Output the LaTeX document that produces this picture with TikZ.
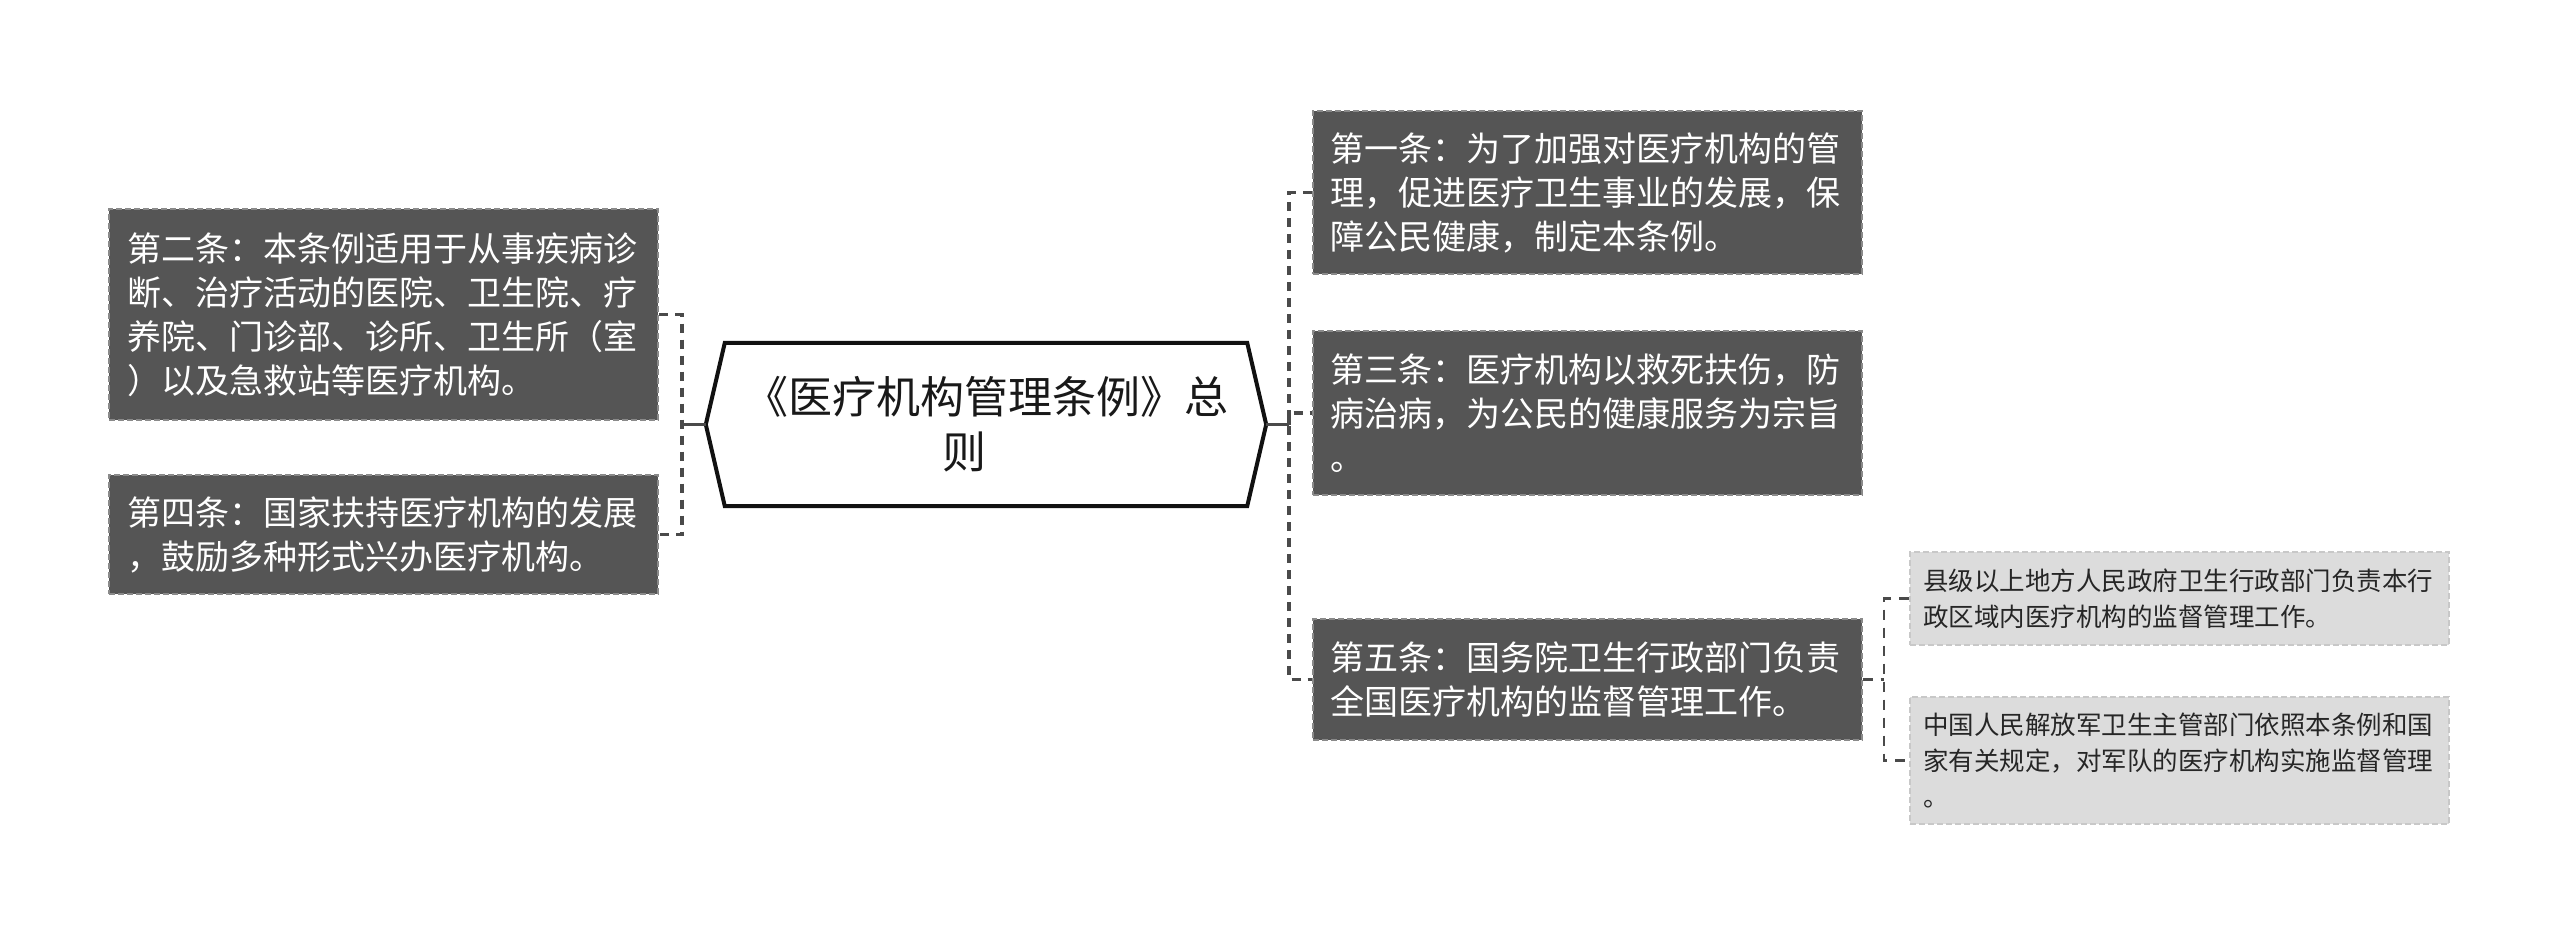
\documentclass[tikz,border=0pt]{standalone}
\usepackage{fontspec}
\setmainfont{Noto Sans CJK SC}
\usetikzlibrary{calc}
\definecolor{darkfill}{HTML}{555555}
\definecolor{darkborder}{HTML}{8A8A8A}
\definecolor{lightfill}{HTML}{DCDCDC}
\definecolor{lightborder}{HTML}{C8C8C8}
\definecolor{connc}{HTML}{4A4A4A}
\definecolor{hexc}{HTML}{111111}
\tikzset{
  darkbox/.style={draw=darkborder, fill=darkfill, line width=2pt, dash pattern=on 6pt off 3pt,
    text=white, text width=513pt, align=left, inner xsep=18pt, inner ysep=0pt,
    font=\fontsize{34pt}{44pt}\selectfont, anchor=center},
  lightbox/.style={draw=lightborder, fill=lightfill, line width=2pt, dash pattern=on 6pt off 3pt,
    text=black!85, text width=513pt, align=left, inner xsep=13pt, inner ysep=0pt,
    font=\fontsize{25.5pt}{36pt}\selectfont, anchor=center},
  hubtext/.style={align=center, inner sep=0pt, minimum width=560pt, minimum height=163pt,
    font=\fontsize{44pt}{55pt}\selectfont, text=black!90},
  hexline/.style={draw=hexc, line width=4pt, line join=miter},
  conn/.style={draw=connc, line width=3.5pt, dash pattern=on 9pt off 7pt},
  solidconn/.style={draw=connc, line width=3.5pt},
  subconn/.style={draw=connc, line width=2.2pt, dash pattern=on 10pt off 8pt},
}
\begin{document}
\begin{tikzpicture}[x=1pt,y=-1pt]
\useasboundingbox (0,0) rectangle (2560,934);
% central hexagon
\node[hubtext] (hub) at (986,424.5) {《医疗机构管理条例》总\\则\hspace*{44pt}};
\draw[hexline] (hub.west) -- ([xshift=19pt]hub.north west) -- ([xshift=-19pt]hub.north east)
  -- (hub.east) -- ([xshift=-19pt]hub.south east) -- ([xshift=19pt]hub.south west) -- cycle;
% left boxes
\node[darkbox, minimum width=549pt, minimum height=211pt] (b2) at (383.5,314.5)
  {第二条：本条例适用于从事疾病诊\\断、治疗活动的医院、卫生院、疗\\养院、门诊部、诊所、卫生所（室\\）以及急救站等医疗机构。};
\node[darkbox, minimum width=549pt, minimum height=119pt] (b4) at (383.5,534.5)
  {第四条：国家扶持医疗机构的发展\\，鼓励多种形式兴办医疗机构。};
% right boxes
\node[darkbox, minimum width=548pt, minimum height=163pt] (b1) at (1587,192.5)
  {第一条：为了加强对医疗机构的管\\理，促进医疗卫生事业的发展，保\\障公民健康，制定本条例。};
\node[darkbox, minimum width=548pt, minimum height=164pt] (b3) at (1587,413)
  {第三条：医疗机构以救死扶伤，防\\病治病，为公民的健康服务为宗旨\\。};
\node[darkbox, minimum width=548pt, minimum height=121pt] (b5) at (1587,679.5)
  {第五条：国务院卫生行政部门负责\\全国医疗机构的监督管理工作。};
% sub boxes
\node[lightbox, minimum width=539pt, minimum height=93pt] (s1) at (2179.5,598.5)
  {县级以上地方人民政府卫生行政部门负责本行\\政区域内医疗机构的监督管理工作。};
\node[lightbox, minimum width=539pt, minimum height=127pt] (s2) at (2179.5,760.5)
  {中国人民解放军卫生主管部门依照本条例和国\\家有关规定，对军队的医疗机构实施监督管理\\。};
% connectors
\coordinate (lj) at (682,424.5);
\coordinate (rj) at (1289,424.5);
\coordinate (sj) at (1884,679.5);
\draw[conn] (b2.east) -| (lj) |- (b4.east);
\draw[solidconn] (hub.west) -- (lj);
\draw[conn] (b1.west) -| (rj) |- (b5.west);
\draw[conn] (rj) |- (b3.west);
\draw[solidconn] (hub.east) -- (rj);
\draw[subconn] (b5.east) -- (sj);
\draw[subconn] (s1.west) -| (sj) |- (s2.west);
\end{tikzpicture}
\end{document}
